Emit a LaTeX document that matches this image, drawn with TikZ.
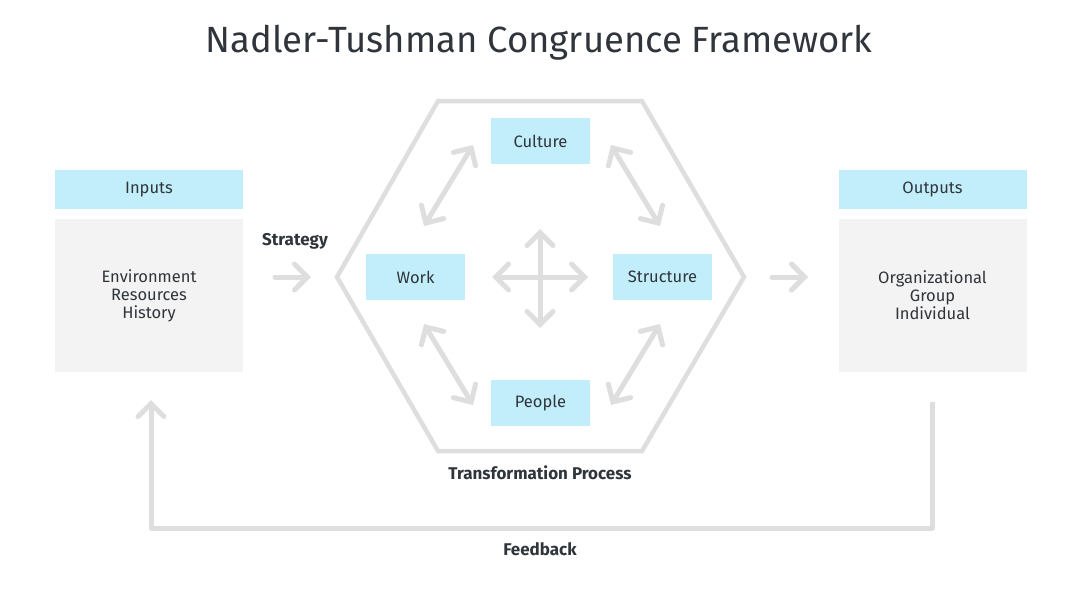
\documentclass[tikz,border=0pt]{standalone}
\usepackage{fontspec}
\setmainfont{Fira Sans}
\usetikzlibrary{arrows.meta}
\definecolor{boxblue}{HTML}{C2EEFB}
\definecolor{boxgray}{HTML}{F3F3F3}
\definecolor{linegray}{HTML}{DEDEDE}
\definecolor{txt}{HTML}{2F353B}
\begin{document}
\begin{tikzpicture}[x=1pt,y=-1pt,
  hdr/.style={fill=boxblue,inner sep=0pt,minimum width=188pt,minimum height=39pt,text=txt,font=\fontsize{16.5}{18}\selectfont},
  body/.style={fill=boxgray,inner sep=0pt,minimum width=188pt,minimum height=153pt,text=txt,align=center,font=\fontsize{16.5}{18}\selectfont},
  elem/.style={fill=boxblue,inner sep=0pt,minimum width=99pt,minimum height=46pt,text=txt,font=\fontsize{16.5}{18}\selectfont},
  lbl/.style={text=txt,font=\bfseries\fontsize{17}{19}\selectfont},
  flow/.style={draw=linegray,line width=5pt,line cap=round,line join=round,-{Straight Barb[length=13pt,width=26pt,line cap=round]}},
  dflow/.style={draw=linegray,line width=5pt,line cap=round,{Straight Barb[length=13pt,width=26pt,line cap=round]}-{Straight Barb[length=13pt,width=26pt,line cap=round]}},
  hexline/.style={draw=linegray,line width=4.5pt,line join=miter}
]
\useasboundingbox (0,0) rectangle (1080,608);
\node[text=txt,font=\fontsize{36.5}{42}\selectfont] (title) at (539,43) {Nadler-Tushman Congruence Framework};
% inputs / outputs
\node[hdr] (inh) at (149,189.5) {Inputs};
\node[body] (inb) at (149,295.5) {Environment\\Resources\\History};
\node[hdr] (outh) at (932.5,189.5) {Outputs};
\node[body] (outb) at (932.5,295.5) {Organizational\\Group\\Individual};
% hexagon
\coordinate (h1) at (337,277);
\coordinate (h2) at (438,101);
\coordinate (h3) at (642,101);
\coordinate (h4) at (744,277);
\coordinate (h5) at (642,451);
\coordinate (h6) at (438,451);
\draw[hexline] (h1) -- (h2) -- (h3) -- (h4) -- (h5) -- (h6) -- cycle;
% elements
\node[elem] (culture) at (540.5,141) {Culture};
\node[elem] (work) at (415.5,277) {Work};
\node[elem] (structure) at (662.5,277) {Structure};
\node[elem] (people) at (540.5,403) {People};
% strategy and output arrows
\node[lbl] (strategy) at (295,241) {Strategy};
\coordinate (sa) at (275,277);
\coordinate (sb) at (311,277);
\draw[flow] (sa) -- (sb);
\coordinate (oa) at (772,277);
\coordinate (ob) at (808,277);
\draw[flow] (oa) -- (ob);
% element arrows
\coordinate (wc1) at (424,226);
\coordinate (wc2) at (473,145);
\draw[dflow] (wc1) -- (wc2);
\coordinate (cs1) at (611,145);
\coordinate (cs2) at (660,226);
\draw[dflow] (cs1) -- (cs2);
\coordinate (wp1) at (424,324);
\coordinate (wp2) at (473,405);
\draw[dflow] (wp1) -- (wp2);
\coordinate (sp1) at (660,324);
\coordinate (sp2) at (611,405);
\draw[dflow] (sp1) -- (sp2);
% center cross
\coordinate (cl) at (492,277);
\coordinate (cr) at (588,277);
\coordinate (ct) at (540,229);
\coordinate (cb) at (540,328);
\draw[dflow] (cl) -- (cr);
\draw[dflow] (ct) -- (cb);
\node[lbl] (tp) at (540,473) {Transformation Process};
% feedback
\coordinate (f1) at (932,402);
\coordinate (f2) at (932,528);
\coordinate (f3) at (151,528);
\coordinate (f4) at (151,400);
\draw[flow,line cap=butt] (f1) -- (f2) -- (f3) -- (f4);
\node[lbl] (fb) at (540,549) {Feedback};
\end{tikzpicture}
\end{document}
